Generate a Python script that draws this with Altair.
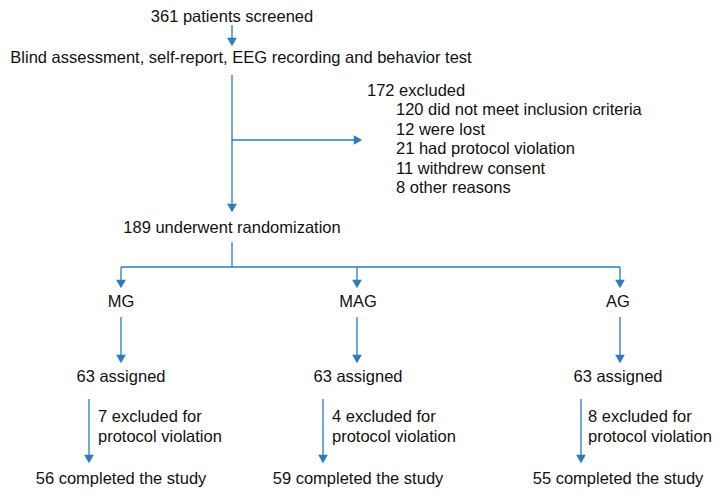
import altair as alt
import pandas as pd

# ---- content (data) ----
screened = 361
assess_label = "Blind assessment, self-report, EEG recording and behavior test"
excluded_total = 172
excl_reasons = ["did not meet inclusion criteria", "were lost", "had protocol violation",
                "withdrew consent", "other reasons"]
excl_counts = [120, 12, 21, 11, 8]
randomized = 189
groups = ["MG", "MAG", "AG"]
assigned = [63, 63, 63]
group_excluded = [7, 4, 8]
completed = [56, 59, 55]

# ---- layout (pixel positions in the 720x496 page) ----
BLUE = "#2b7bbd"
FONT = "Liberation Sans"
FS = 16.5
CX = 232
group_x = [121, 357, 620]
label_x = [121, 358, 618]
side_x = [89, 323, 581]
side_gap = [9, 9, 7]

texts = []
texts.append(dict(t=f"{screened} patients screened", x=CX, y=17, a="center"))
texts.append(dict(t=assess_label, x=CX + 9, y=58, a="center"))
texts.append(dict(t=f"{excluded_total} excluded", x=367, y=91, a="left"))
for i, (c, r) in enumerate(zip(excl_counts, excl_reasons)):
    texts.append(dict(t=f"{c} {r}", x=396, y=110 + i * 19.5, a="left"))
texts.append(dict(t=f"{randomized} underwent randomization", x=CX, y=228, a="center"))
for i, g in enumerate(groups):
    texts.append(dict(t=g, x=label_x[i], y=302, a="center"))
    texts.append(dict(t=f"{assigned[i]} assigned", x=label_x[i], y=377, a="center"))
    texts.append(dict(t=f"{group_excluded[i]} excluded for", x=side_x[i] + side_gap[i], y=417, a="left"))
    texts.append(dict(t="protocol violation", x=side_x[i] + side_gap[i], y=437, a="left"))
    texts.append(dict(t=f"{completed[i]} completed the study", x=label_x[i], y=479, a="center"))
tdf = pd.DataFrame(texts)

# line segments (x, y, x2, y2)
segs = [
    (CX, 25, CX, 40),
    (CX, 75, CX, 206),
    (CX, 140, 355, 140),
    (CX, 242, CX, 267),
    (group_x[0], 267, group_x[2], 267),
]
for i in range(3):
    segs.append((group_x[i], 267, group_x[i], 282))
    segs.append((group_x[i], 317, group_x[i], 357))
    segs.append((side_x[i], 399, side_x[i], 457))
sdf = pd.DataFrame(segs, columns=["x", "y", "x2", "y2"])

# arrowheads (center positions)
heads = [(CX, 42, "triangle-down"), (CX, 208, "triangle-down"), (358, 140, "triangle-right")]
for i in range(3):
    heads.append((group_x[i], 284, "triangle-down"))
    heads.append((group_x[i], 359, "triangle-down"))
    heads.append((side_x[i], 459, "triangle-down"))
hdf = pd.DataFrame(heads, columns=["x", "y", "shape"])

xs = alt.Scale(domain=[8, 712])
ys = alt.Scale(domain=[488, 8])
X = lambda f="x": alt.X(f"{f}:Q", scale=xs, axis=None)
Y = lambda f="y": alt.Y(f"{f}:Q", scale=ys, axis=None)

lines = alt.Chart(sdf).mark_rule(color=BLUE, strokeWidth=1.3).encode(
    x=X(), y=Y(), x2="x2:Q", y2="y2:Q")

arrows = alt.Chart(hdf).mark_point(filled=True, color=BLUE, size=95, opacity=1).encode(
    x=X(), y=Y(), shape=alt.Shape("shape:N", scale=None))

txt_c = alt.Chart(tdf[tdf.a == "center"]).mark_text(
    font=FONT, fontSize=FS, color="#111111", align="center", baseline="middle").encode(
    x=X(), y=Y(), text="t:N")
txt_l = alt.Chart(tdf[tdf.a == "left"]).mark_text(
    font=FONT, fontSize=FS, color="#111111", align="left", baseline="middle").encode(
    x=X(), y=Y(), text="t:N")

chart = alt.layer(lines, arrows, txt_c, txt_l).properties(
    width=704, height=480, padding=0, autosize="none"
).configure(
    background="white",
    view=alt.ViewConfig(stroke="transparent", strokeWidth=0),
)

chart.save("out.html", embed_options={"renderer": "svg", "actions": False})
